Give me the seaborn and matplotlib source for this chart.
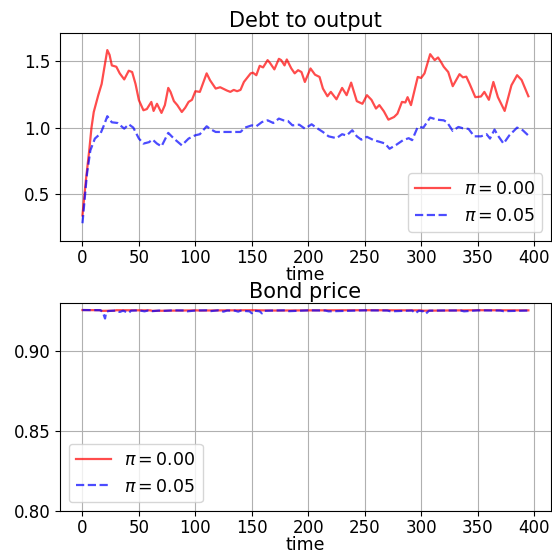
import matplotlib
matplotlib.use("Agg")
import matplotlib.pyplot as plt
import seaborn as sns
import pandas as pd

# ---- data ----
labels = [r"$\pi = 0.00$", r"$\pi = 0.05$"]
titles = ["Debt to output", "Bond price"]
xlabel = "time"

debt_t_00 = [0, 3, 6, 8, 10, 14, 17, 19, 22, 24, 26, 30, 33, 37, 41, 44, 47, 50, 54, 57,
             61, 63, 66, 70, 73, 76, 78, 81, 84, 88, 91, 94, 97, 100, 104, 110, 113, 118,
             122, 128, 131, 134, 137, 140, 143, 149, 151, 154, 157, 160, 164, 166, 170,
             174, 176, 179, 181, 185, 188, 191, 194, 197, 202, 206, 210, 213, 217, 220,
             225, 230, 234, 238, 243, 248, 252, 256, 260, 263, 267, 271, 276, 279, 283,
             286, 288, 291, 297, 300, 303, 308, 312, 315, 318, 320, 324, 328, 334, 337,
             340, 343, 348, 353, 356, 360, 364, 368, 374, 380, 385, 389, 395]
debt_v_00 = [0.336, 0.60, 0.828, 1.00, 1.118, 1.245, 1.33, 1.434, 1.586, 1.55, 1.47, 1.46,
             1.41, 1.364, 1.43, 1.42, 1.33, 1.207, 1.131, 1.14, 1.194, 1.126, 1.18, 1.111,
             1.17, 1.30, 1.27, 1.20, 1.17, 1.118, 1.15, 1.194, 1.21, 1.275, 1.27, 1.41,
             1.358, 1.295, 1.305, 1.28, 1.27, 1.285, 1.275, 1.285, 1.345, 1.41, 1.415,
             1.396, 1.467, 1.455, 1.51, 1.49, 1.44, 1.52, 1.51, 1.47, 1.515, 1.447, 1.41,
             1.434, 1.42, 1.345, 1.447, 1.40, 1.383, 1.295, 1.237, 1.27, 1.214, 1.30,
             1.245, 1.34, 1.20, 1.18, 1.245, 1.21, 1.144, 1.17, 1.123, 1.06, 1.08, 1.105,
             1.194, 1.19, 1.23, 1.17, 1.383, 1.375, 1.41, 1.555, 1.51, 1.53, 1.49, 1.46,
             1.42, 1.313, 1.404, 1.38, 1.385, 1.33, 1.23, 1.235, 1.27, 1.21, 1.345, 1.23,
             1.126, 1.32, 1.396, 1.36, 1.237]

debt_t_05 = [0, 4, 7, 11, 16, 19, 22, 26, 31, 37, 41, 45, 50, 54, 59, 62, 66, 70, 76, 81,
             88, 94, 100, 104, 110, 113, 118, 128, 140, 144, 150, 154, 159, 164, 169, 174,
             178, 182, 186, 192, 197, 203, 207, 213, 218, 225, 230, 234, 239, 243, 247,
             252, 258, 263, 268, 272, 278, 284, 289, 292, 297, 302, 308, 314, 320, 323,
             328, 333, 337, 342, 347, 353, 358, 361, 365, 368, 373, 378, 385, 390, 395]
debt_v_05 = [0.277, 0.65, 0.828, 0.917, 0.955, 1.017, 1.086, 1.04, 1.035, 0.992, 1.025,
             1.00, 0.917, 0.879, 0.89, 0.91, 0.879, 0.858, 0.96, 0.917, 0.866, 0.917,
             0.942, 0.95, 1.01, 0.99, 0.967, 0.967, 0.967, 1.00, 1.017, 1.01, 1.042,
             1.055, 1.035, 1.068, 1.055, 1.05, 1.017, 1.022, 0.992, 1.025, 1.00, 0.967,
             0.934, 0.92, 0.95, 0.94, 0.98, 0.934, 0.909, 0.93, 0.905, 0.893, 0.88, 0.84,
             0.87, 0.905, 0.92, 0.905, 1.005, 1.00, 1.076, 1.06, 1.055, 1.04, 0.975, 1.005,
             0.995, 0.99, 0.934, 0.934, 0.95, 0.917, 0.985, 0.94, 0.879, 0.94, 1.00, 0.98,
             0.94]

price_t_00 = [0, 15, 17, 28, 30, 60, 62, 100, 105, 150, 170, 200, 250, 300, 302, 350, 395]
price_v_00 = [0.9258, 0.9257, 0.9253, 0.9254, 0.9257, 0.9256, 0.9253, 0.9256, 0.9255,
              0.9257, 0.9255, 0.9256, 0.9257, 0.9256, 0.9254, 0.9257, 0.9256]

price_t_05 = [0, 16, 18, 20, 21, 23, 30, 33, 36, 41, 43, 50, 55, 58, 62, 68, 70, 80, 90,
              93, 100, 110, 113, 120, 125, 128, 135, 138, 140, 148, 150, 152, 157, 159,
              161, 170, 180, 183, 200, 215, 218, 250, 270, 273, 292, 295, 298, 302, 304,
              307, 320, 335, 338, 350, 370, 373, 395]
price_v_05 = [0.9258, 0.9257, 0.9245, 0.9205, 0.9245, 0.9252, 0.9255, 0.9246, 0.9254,
              0.9240, 0.9254, 0.9256, 0.9250, 0.9255, 0.9251, 0.9255, 0.9252, 0.9256,
              0.9255, 0.9250, 0.9255, 0.9256, 0.9251, 0.9256, 0.9248, 0.9255, 0.9254,
              0.9248, 0.9254, 0.9250, 0.9238, 0.9254, 0.9250, 0.9237, 0.9253, 0.9255,
              0.9256, 0.9251, 0.9256, 0.9255, 0.9250, 0.9256, 0.9255, 0.9250, 0.9255,
              0.9238, 0.9254, 0.9250, 0.9234, 0.9254, 0.9255, 0.9255, 0.9250, 0.9256,
              0.9255, 0.9251, 0.9255]

# ---- styling ----
plt.rcParams.update({
    "font.family": ["DejaVu Sans"],
    "font.size": 12.5,
    "axes.titlesize": 15,
    "axes.labelsize": 12.5,
    "xtick.labelsize": 12,
    "ytick.labelsize": 12,
    "legend.fontsize": 12.5,
    "axes.grid": True,
    "grid.color": "#b0b0b0",
    "grid.linewidth": 0.8,
})

fig, axes = plt.subplots(2, 1, figsize=(5.52, 5.55), dpi=100)
fig.subplots_adjust(left=0.109, right=0.9976, top=0.941, bottom=0.079, hspace=0.302)

series = [
    [(debt_t_00, debt_v_00), (debt_t_05, debt_v_05)],
    [(price_t_00, price_v_00), (price_t_05, price_v_05)],
]
colors = ["r", "b"]
styles = ["-", "--"]
ylims = [(0.146, 1.717), (0.80, 0.930)]
locs = ["lower right", "lower left"]

for ax, panel, title, ylim, loc in zip(axes, series, titles, ylims, locs):
    for (t, v), lab, c, ls in zip(panel, labels, colors, styles):
        df = pd.DataFrame({"time": t, "value": v})
        sns.lineplot(data=df, x="time", y="value", ax=ax, color=c, alpha=0.7,
                     linestyle=ls, linewidth=1.6, label=lab)
    ax.set_title(title, pad=4)
    ax.set_xlabel(xlabel, labelpad=-1)
    ax.set_ylabel("")
    ax.set_xlim(-19.75, 414.75)
    ax.set_ylim(*ylim)
    ax.set_xticks(range(0, 401, 50))
    ax.tick_params(axis="x", pad=2.5)
    ax.grid(True, color="#b0b0b0", linewidth=0.8)
    ax.set_axisbelow(True)
    ax.legend(loc=loc)

axes[0].set_yticks([0.5, 1.0, 1.5])
axes[1].set_yticks([0.80, 0.85, 0.90])

fig.savefig("out.png", dpi=100)
